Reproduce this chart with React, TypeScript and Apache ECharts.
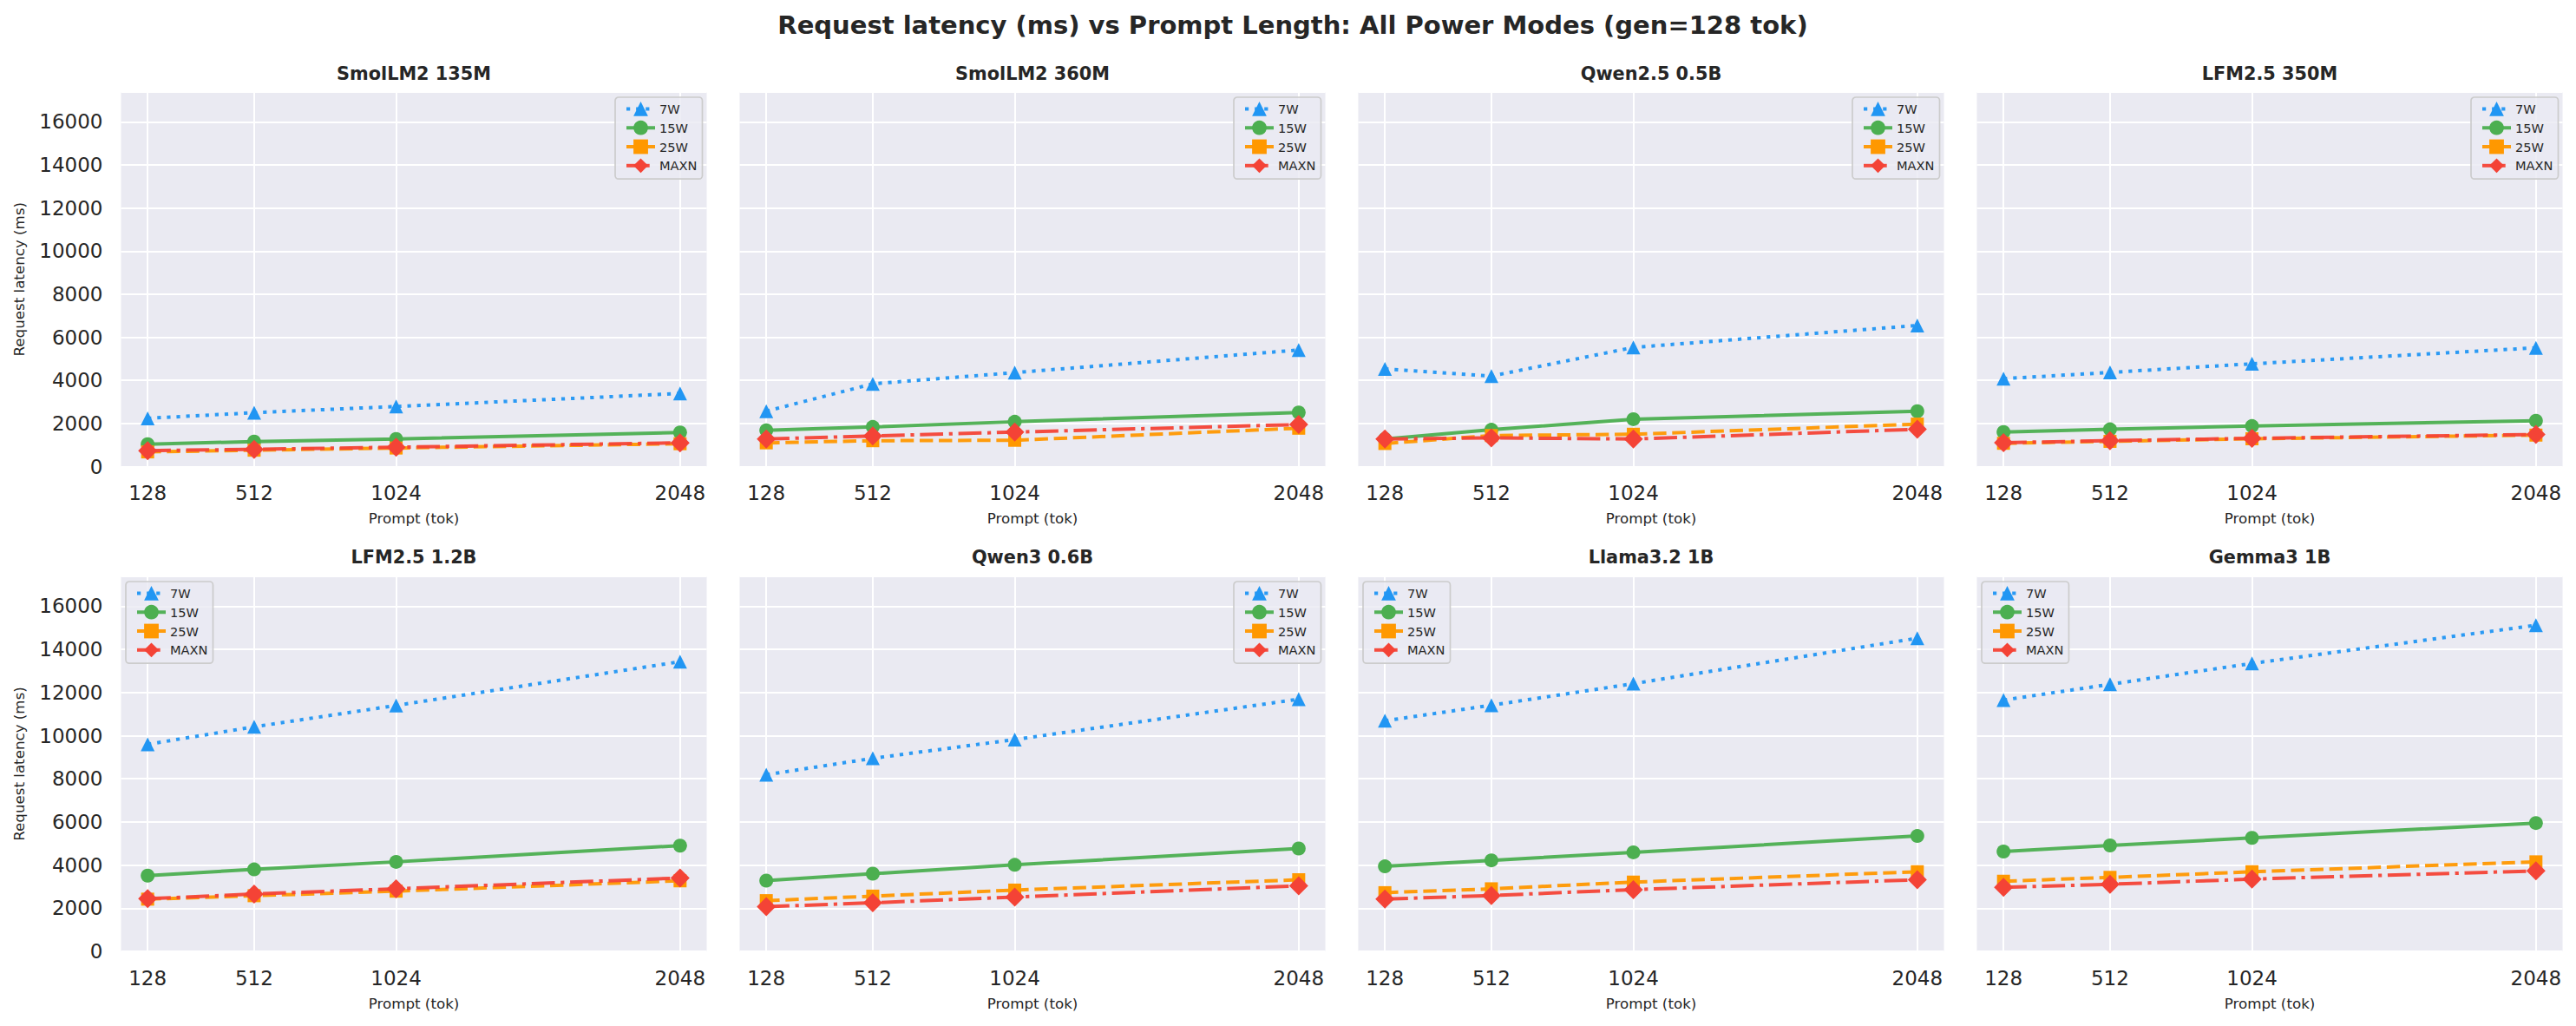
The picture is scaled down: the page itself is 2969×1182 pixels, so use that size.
import React, { useEffect, useRef } from "react";
import * as echarts from "echarts";

// ---------- data ----------
const PROMPT_LENGTHS = [128, 512, 1024, 2048];
const X_TICKS = [128, 512, 1024, 2048];
const MODES = ["7W", "15W", "25W", "MAXN"];
const MODELS = [
  "SmolLM2 135M",
  "SmolLM2 360M",
  "Qwen2.5 0.5B",
  "LFM2.5 350M",
  "LFM2.5 1.2B",
  "Qwen3 0.6B",
  "Llama3.2 1B",
  "Gemma3 1B",
];

// latency (ms) per model, at prompt lengths 128 / 512 / 1024 / 2048
const LAT_7W = [
  [2240, 2500, 2790, 3390],
  [2570, 3840, 4360, 5410],
  [4530, 4200, 5530, 6550],
  [4080, 4370, 4770, 5510],
  [9600, 10410, 11400, 13430],
  [8190, 8950, 9820, 11690],
  [10690, 11410, 12410, 14520],
  [11650, 12380, 13350, 15120],
];
const LAT_15W = [
  [1040, 1160, 1280, 1580],
  [1680, 1840, 2080, 2510],
  [1280, 1710, 2200, 2570],
  [1600, 1730, 1880, 2130],
  [3510, 3800, 4150, 4900],
  [3280, 3600, 4010, 4770],
  [3940, 4220, 4590, 5350],
  [4630, 4910, 5260, 5950],
];
const LAT_25W = [
  [680, 760, 860, 1060],
  [1100, 1200, 1220, 1780],
  [1070, 1440, 1500, 1970],
  [1080, 1170, 1290, 1460],
  [2420, 2580, 2790, 3270],
  [2350, 2560, 2840, 3320],
  [2720, 2900, 3210, 3690],
  [3250, 3430, 3690, 4150],
];
const LAT_MAXN = [
  [740, 800, 900, 1100],
  [1280, 1420, 1600, 1950],
  [1280, 1330, 1280, 1730],
  [1110, 1200, 1310, 1490],
  [2440, 2660, 2900, 3400],
  [2070, 2250, 2520, 3040],
  [2420, 2590, 2860, 3320],
  [2970, 3110, 3350, 3730],
];
const LEGEND_SIDE = ["right", "right", "right", "right", "left", "right", "left", "left"];

const SUPTITLE = "Request latency (ms) vs Prompt Length: All Power Modes (gen=128 tok)";
const Y_NAME = "Request latency (ms)";
const X_NAME = "Prompt (tok)";

// ---------- style ----------
const W = 2969;
const H = 1182;
const FONT = "DejaVu Sans";
const TEXT = "#262626";
const BG = "#EAEAF2";
const COL_LEFT = [139.5, 852.5, 1565.5, 2278.5];
const PLOT_W = 675;
const ROW_TOP = [106, 664];
const PLOT_H = [431.5, 432];
const TITLE_Y = [85, 642];
const Y_MAX = 17385;

const COLORS = ["#2196F3", "#4CAF50", "#FF9800", "#F44336"];
const SYMBOLS = ["triangle", "circle", "rect", "diamond"];
const SYMBOL_SIZES = [16, 16, 15, 22];
const DASHES: any[] = [[4.2, 6.9], "solid", [15.4, 6.7], [26.7, 6.7, 4.2, 6.7]];
const ALL_DATA = [LAT_7W, LAT_15W, LAT_25W, LAT_MAXN];

const plain = (v: number) => String(v);

function buildOption() {
  const grid: any[] = [];
  const xAxis: any[] = [];
  const yAxis: any[] = [];
  const series: any[] = [];
  const legend: any[] = [];
  const title: any[] = [
    {
      text: SUPTITLE,
      left: 1490,
      top: 14,
      textAlign: "center",
      padding: 0,
      textStyle: { fontFamily: FONT, fontSize: 29, fontWeight: "bold", color: TEXT, lineHeight: 29 },
    },
  ];

  MODELS.forEach((model, p) => {
    const col = p % 4;
    const row = Math.floor(p / 4);
    const left = COL_LEFT[col];
    const top = ROW_TOP[row];
    grid.push({
      left,
      top,
      width: PLOT_W,
      height: PLOT_H[row],
      show: true,
      backgroundColor: BG,
      borderWidth: 0,
      containLabel: false,
    });
    title.push({
      text: model,
      left: left + PLOT_W / 2,
      top: TITLE_Y[row] - 10.5,
      textAlign: "center",
      padding: 0,
      textStyle: { fontFamily: FONT, fontSize: 20.8, fontWeight: "bold", color: TEXT, lineHeight: 21 },
    });
    xAxis.push({
      type: "value",
      gridIndex: p,
      min: 32,
      max: 2144,
      name: X_NAME,
      nameLocation: "middle",
      nameGap: 51,
      nameTextStyle: { fontFamily: FONT, fontSize: 16.7, color: TEXT },
      axisLine: { show: false },
      axisTick: { show: false, customValues: X_TICKS },
      axisLabel: {
        customValues: X_TICKS,
        formatter: plain,
        fontFamily: FONT,
        fontSize: 23,
        color: TEXT,
        margin: 19,
      },
      splitLine: { show: true, lineStyle: { color: "#ffffff", width: 2 } },
    });
    yAxis.push({
      type: "value",
      gridIndex: p,
      min: 0,
      max: Y_MAX,
      interval: 2000,
      name: col === 0 ? Y_NAME : "",
      nameLocation: "middle",
      nameGap: 109,
      nameTextStyle: { fontFamily: FONT, fontSize: 16.7, color: TEXT },
      axisLine: { show: false },
      axisTick: { show: false },
      axisLabel: {
        show: col === 0,
        showMaxLabel: false,
        formatter: plain,
        fontFamily: FONT,
        fontSize: 23,
        color: TEXT,
        margin: 21,
      },
      splitLine: { show: true, lineStyle: { color: "#ffffff", width: 2 } },
    });
    MODES.forEach((mode, m) => {
      const vals = ALL_DATA[m][p];
      series.push({
        type: "line",
        name: mode,
        xAxisIndex: p,
        yAxisIndex: p,
        data: PROMPT_LENGTHS.map((x, i) => [x, vals[i]]),
        symbol: SYMBOLS[m],
        symbolSize: SYMBOL_SIZES[m],
        showAllSymbol: true,
        lineStyle: { color: COLORS[m], width: 4, type: DASHES[m], opacity: 0.95 },
        itemStyle: { color: COLORS[m] },
        emphasis: { disabled: true },
        z: 2 + m,
      });
    });
    const lg: any = {
      orient: "vertical",
      data: MODES,
      top: top + 6,
      itemWidth: 33,
      itemHeight: 21,
      itemGap: 5,
      padding: [5, 6, 7, 11],
      backgroundColor: "rgba(234,234,242,0.8)",
      borderColor: "#cccccc",
      borderWidth: 1.7,
      borderRadius: 4,
      selectedMode: false,
      lineStyle: { width: 4 },
      textStyle: { fontFamily: FONT, fontSize: 14.6, color: TEXT },
    };
    if (LEGEND_SIDE[p] === "right") lg.right = W - (left + PLOT_W) + 5;
    else lg.left = left + 5.5;
    legend.push(lg);
  });

  return {
    animation: false,
    backgroundColor: "#ffffff",
    textStyle: { fontFamily: FONT },
    title,
    grid,
    xAxis,
    yAxis,
    legend,
    series,
  };
}

export default function App() {
  const ref = useRef<HTMLDivElement>(null);
  useEffect(() => {
    if (!ref.current) return;
    const chart = echarts.init(ref.current, null, { renderer: "svg" });
    chart.setOption(buildOption());
    return () => chart.dispose();
  }, []);
  return (
    <div
      ref={ref}
      style={{ position: "fixed", left: 0, top: 0, width: W, height: H, background: "#ffffff" }}
    />
  );
}
